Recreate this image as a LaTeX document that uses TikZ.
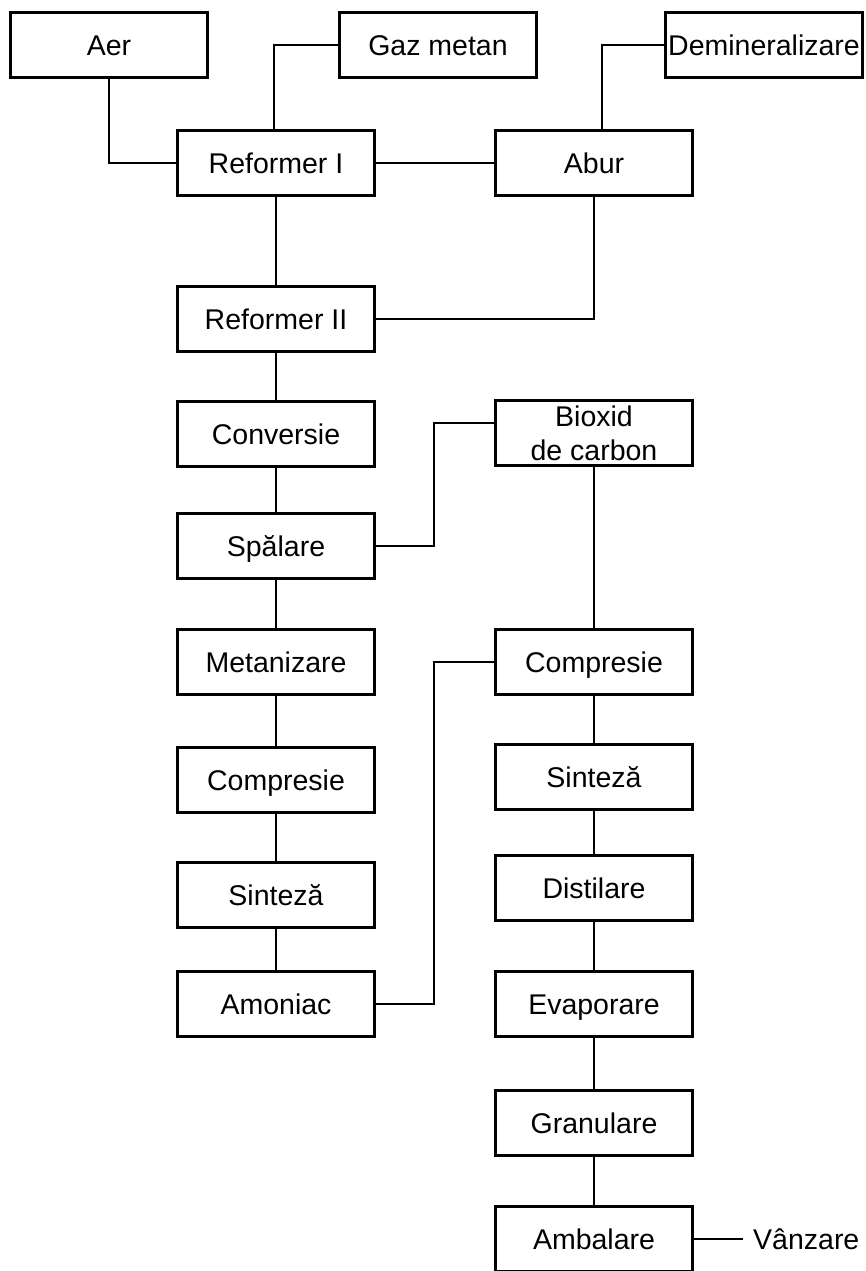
\documentclass[tikz,border=0pt]{standalone}
\usepackage{fontspec}
\setmainfont{Liberation Sans}
\begin{document}
\begin{tikzpicture}[x=1pt,y=-1pt,
  box/.style={draw,line width=2.8pt,minimum width=197pt,minimum height=65pt,inner sep=0pt,align=center,text height=20.5pt,text depth=0pt,font=\fontsize{28.5}{34}\selectfont},
  twoline/.style={text height=54.5pt,text depth=0pt},
  conn/.style={line width=2.6pt},
  lbl/.style={inner ysep=4pt,inner xsep=10pt,font=\fontsize{28.5}{34}\selectfont}]
\useasboundingbox (0,0) rectangle (866,1271);
% top row
\node[box] (aer) at (109,45) {Aer};
\node[box] (gaz) at (438,45) {Gaz metan};
\node[box] (dem) at (764,45) {Demineralizare};
% left column
\node[box] (r1) at (276,163) {Reformer I};
\node[box] (abur) at (594,163) {Abur};
\node[box] (r2) at (276,319) {Reformer II};
\node[box] (conv) at (276,434) {Conversie};
\node[box] (spal) at (276,546) {Spălare};
\node[box] (met) at (276,662) {Metanizare};
\node[box] (compL) at (276,780) {Compresie};
\node[box] (sinL) at (276,895) {Sinteză};
\node[box] (amo) at (276,1004) {Amoniac};
% right column
\node[box,twoline] (bio) at (594,433) {Bioxid\\de carbon};
\node[box] (compR) at (594,662) {Compresie};
\node[box] (sinR) at (594,777) {Sinteză};
\node[box] (dist) at (594,888) {Distilare};
\node[box] (evap) at (594,1004) {Evaporare};
\node[box] (gran) at (594,1123) {Granulare};
\node[box] (amb) at (594,1239) {Ambalare};
\node[lbl,anchor=west] (vanz) at (743,1239) {Vânzare};
% connectors
\draw[conn] (aer.south) |- (r1.west);
\draw[conn] (gaz.west) -| ([xshift=-2pt]r1.north);
\draw[conn] (r1.east) -- (abur.west);
\coordinate (aburin) at ([xshift=8pt]abur.north);
\draw[conn] (dem.west) -| (aburin);
\draw[conn] (r1.south) -- (r2.north);
\draw[conn] (abur.south) |- (r2.east);
\draw[conn] (r2.south) -- (conv.north);
\draw[conn] (conv.south) -- (spal.north);
\draw[conn] (spal.south) -- (met.north);
\draw[conn] (met.south) -- (compL.north);
\draw[conn] (compL.south) -- (sinL.north);
\draw[conn] (sinL.south) -- (amo.north);
\coordinate (bus) at (434,0);
\coordinate (bioin) at ([yshift=10pt]bio.west);
\draw[conn] (spal.east) -| (bus |- bioin) -- (bioin);
\draw[conn] (amo.east) -| (bus |- compR.west) -- (compR.west);
\draw[conn] (bio.south) -- (compR.north);
\draw[conn] (compR.south) -- (sinR.north);
\draw[conn] (sinR.south) -- (dist.north);
\draw[conn] (dist.south) -- (evap.north);
\draw[conn] (evap.south) -- (gran.north);
\draw[conn] (gran.south) -- (amb.north);
\draw[conn] (amb.east) -- (vanz.west);
\end{tikzpicture}
\end{document}
